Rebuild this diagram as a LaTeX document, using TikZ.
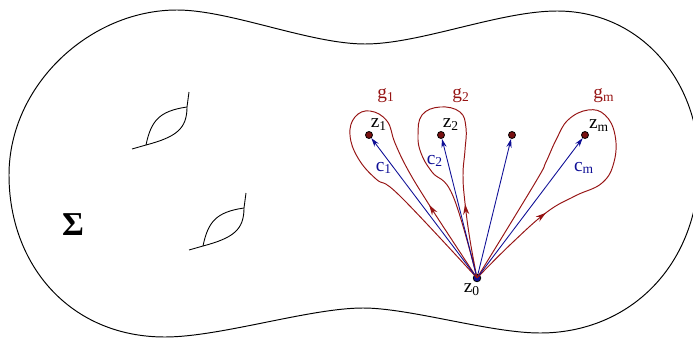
\documentclass[tikz,border=0pt]{standalone}
\usepackage{fontspec}
\setmainfont{Liberation Serif}
\usepackage{xcolor}
\definecolor{gred}{RGB}{150,20,20}
\definecolor{cblue}{RGB}{15,15,150}
\usetikzlibrary{arrows.meta,decorations.markings}

\begin{document}
\begin{tikzpicture}[
  x=0.02cm, y=-0.02cm,
  font=\fontsize{11}{13}\selectfont,
  surface/.style={draw=black,line width=0.55pt},
  handle/.style={draw=black,line width=0.5pt},
  puncture/.style={circle,draw=black,fill=gred!80!black,line width=0.45pt,inner sep=0pt,minimum size=4pt},
  base/.style={circle,draw=black,fill=cblue,line width=0.45pt,inner sep=0pt,minimum size=4.3pt},
  carrow/.style={-{Stealth[length=5pt,width=3pt]},cblue,line width=0.5pt},
  gloop/.style={gred,line width=0.55pt,postaction={decorate},
    decoration={markings,mark=at position #1 with {\arrow{Stealth[length=6pt,width=3.5pt]}}}},
  glbl/.style={text=gred,inner sep=0pt},
  clbl/.style={text=cblue,inner sep=0pt},
  zlbl/.style={inner sep=0pt}
]
  \useasboundingbox (0,0) rectangle (693,338);

  % surface
  \draw[surface] (9,175) .. controls (9,85) and (90,10) .. (177,10)
    .. controls (230,10) and (310,44) .. (365,44)
    .. controls (420,44) and (500,11) .. (557,11)
    .. controls (640,11) and (699,80) .. (699,165)
    .. controls (699,265) and (630,333) .. (540,333)
    .. controls (490,333) and (410,308) .. (363,308)
    .. controls (310,308) and (220,337) .. (165,337)
    .. controls (70,337) and (9,265) .. cycle;
  \node[font=\fontsize{19}{19}\selectfont\bfseries] (sigma) at (73,225) {Σ};

  % handles
  \foreach \dx/\dy in {0/0,57/101}{
    \begin{scope}[shift={(\dx,\dy)}]
      \draw[handle] (132,149) -- (146,145) .. controls (176,137) and (187,129) .. (187,107) -- (189,92);
      \draw[handle] (146,145) .. controls (151,121) and (159,111) .. (187,107);
    \end{scope}
  }

  % punctures
  \node[base] (z0) at (477,278) {};
  \node[puncture] (z1) at (369,135) {};
  \node[puncture] (z2) at (441,135) {};
  \node[puncture] (z3) at (512,135) {};
  \node[puncture] (zm) at (585,135) {};

  % loops
  \draw[gloop=1.75cm] plot[smooth,tension=0.7] coordinates {(z0.center) (452,240) (428,203)
    (408,170) (395,143) (387,121) (370,111) (355,117) (350,135) (358,158) (376,179)
    (400,196) (z0.center)};
  \draw[gloop=1.5cm] plot[smooth,tension=0.7] coordinates {(z0.center) (470,240) (465,203)
    (463,175) (465,150) (466,128) (460,112) (440,107) (422,115) (418,135) (421,153)
    (432,172) (453,196) (z0.center)};
  \draw[gloop=1.9cm] plot[smooth,tension=0.7] coordinates {(z0.center) (512,243) (547,212)
    (575,196) (602,183) (614,162) (615,135) (605,115) (588,110) (568,120) (556,140)
    (546,162) (535,183) (z0.center)};

  % paths
  \draw[carrow] (z0) -- (z1);
  \draw[carrow] (z0) -- (z2);
  \draw[carrow] (z0) -- (z3);
  \draw[carrow] (z0) -- (zm);

  % labels
  \node[zlbl] (lz0) at (472,290) {z\textsubscript{0}};
  \node[zlbl] (lz1) at (379,125) {z\textsubscript{1}};
  \node[zlbl] (lz2) at (451,125) {z\textsubscript{2}};
  \node[zlbl] (lzm) at (599,126) {z\textsubscript{m}};
  \node[glbl] (lg1) at (386,96) {g\textsubscript{1}};
  \node[glbl] (lg2) at (461,96) {g\textsubscript{2}};
  \node[glbl] (lgm) at (604,96) {g\textsubscript{m}};
  \node[clbl] (lc1) at (384,168) {c\textsubscript{1}};
  \node[clbl] (lc2) at (435,161) {c\textsubscript{2}};
  \node[clbl] (lcm) at (584,168) {c\textsubscript{m}};
\end{tikzpicture}
\end{document}
